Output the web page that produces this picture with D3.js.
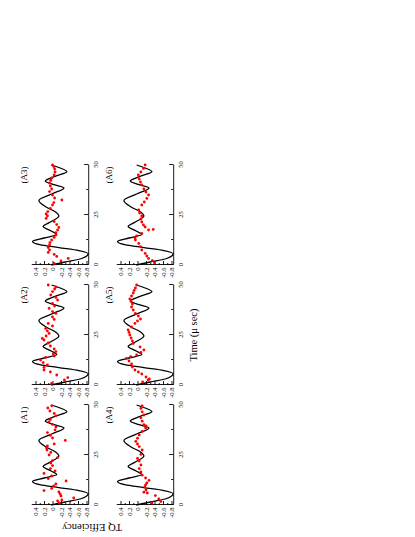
<!DOCTYPE html>
<html>
<head>
<meta charset="utf-8">
<script src="https://cdn.jsdelivr.net/npm/d3@7/dist/d3.min.js"></script>
<style>
  html, body { margin: 0; padding: 0; background: #fff; }
  svg { display: block; }
  text { font-family: "Liberation Serif", "Times New Roman", serif; fill: #000; }
</style>
</head>
<body>
<script>
// ---------- data ----------
const panelNames = ["(A1)", "(A2)", "(A3)", "(A4)", "(A5)", "(A6)"];
const timeTicks = [0, 25, 50];
const timeMinor = [12.5, 37.5];
const valueTicks = [0.4, 0.2, 0, -0.2, -0.4, -0.6, -0.8];
const valueMinor = [0.3, 0.1, -0.1, -0.3, -0.5, -0.7];

// theoretical curve (same in every panel)
const curveT = [0, 1.5, 3, 5.6, 7.2, 8.7, 10.2, 11.8, 13.5, 15.2, 17, 19.3, 21.5, 24.5, 26.5, 29, 32.3, 35.5, 38.5, 40.2, 42, 44.3, 46.7, 48.5, 50];
const curveV = [0.03, -0.3, -0.65, -0.84, -0.62, -0.15, 0.3, 0.47, 0.2, -0.1, 0.03, 0.22, 0.05, -0.15, -0.07, 0.15, 0.32, 0.02, -0.27, -0.04, 0.17, -0.06, -0.34, -0.18, 0.02];

// experimental points
const tA1 = [1, 2, 2.5, 3.5, 4.5, 5.5, 6.5, 7.2, 8.3, 9.5, 10.5, 12, 13.2, 14.5, 15.8, 17, 18.2, 19.7, 21, 22.2, 23.7, 25, 26.3, 27.5, 28.5, 29.5, 30.5, 32.3, 33.5, 34.8, 36.2, 37.6, 39, 40.3, 41.6, 42.8, 44.6, 45.8, 47, 48.5, 49.6];
const vA1 = [-0.16, -0.12, -0.22, -0.5, -0.2, -0.18, -0.15, 0.2, 0.02, -0.03, -0.08, -0.32, 0.1, 0.02, 0.2, -0.06, 0.05, 0.0, 0.04, 0.0, -0.12, 0.08, 0.04, 0.13, 0.14, 0.12, -0.04, -0.3, 0.0, 0.05, 0.12, -0.06, -0.08, 0.0, 0.08, 0.05, -0.08, -0.04, 0.06, 0.11, 0.02];

const tA2 = [0.8, 2.5, 3.7, 5, 6.5, 7.5, 8.8, 10, 11.2, 12.5, 13.8, 14.5, 15.5, 16.7, 18, 19.5, 21, 22.5, 23.3, 24.5, 25.8, 27, 28.3, 29.5, 30.8, 32.8, 34, 35.8, 36.7, 38.3, 39.5, 40.8, 42.5, 43.8, 45, 46.7, 48, 49, 50];
const vA2 = [0.02, -0.28, -0.36, -0.1, 0.05, 0.2, 0.2, 0.12, 0.22, 0.28, 0.16, -0.04, -0.02, -0.08, -0.04, 0.05, 0.1, 0.2, 0.24, 0.15, 0.08, 0.12, 0.16, 0.0, 0.1, -0.04, 0.0, -0.08, 0.0, 0.08, -0.05, 0.0, -0.12, -0.08, 0.04, 0.0, -0.05, -0.08, 0.1];

const tA3 = [0.8, 2, 3.3, 4.3, 5.3, 6.3, 7.5, 8.7, 10, 11.2, 12.5, 13.8, 15, 16.2, 17.5, 18.8, 20.2, 21.7, 23.3, 24.5, 25.5, 26.7, 28.3, 30, 31.2, 32.5, 33.5, 35, 36.7, 38, 39.5, 41, 42.3, 43.5, 45, 46.5, 48, 49.2, 50];
const vA3 = [-0.04, -0.2, -0.37, -0.1, -0.04, 0.1, 0.07, 0.1, 0.07, 0.06, 0.02, -0.04, -0.08, -0.08, -0.12, -0.15, -0.1, -0.04, 0.15, 0.12, 0.15, 0.11, 0.05, 0.0, -0.03, -0.22, -0.05, 0.0, 0.07, 0.02, 0.05, 0.07, 0.04, 0.02, -0.04, -0.06, -0.05, -0.03, 0.0];

const tA4 = [1, 1.7, 3, 4.7, 6, 6.4, 7.5, 9, 10, 11, 12.3, 13.5, 14.9, 16.5, 18.2, 20, 22, 23.3, 25.3, 27.5, 29.2, 30.5, 31.8, 33.4, 35, 36.8, 38.5, 39.5, 40.2, 41.9, 43.6, 45, 46.6, 48.3, 49.5];
const vA4 = [-0.34, -0.55, -0.5, -0.42, -0.23, -0.15, -0.2, -0.17, -0.19, -0.22, -0.27, -0.19, -0.11, -0.08, -0.04, -0.08, -0.04, 0.0, -0.08, -0.11, -0.04, 0.0, 0.04, 0.0, -0.04, -0.11, -0.19, -0.2, -0.15, -0.11, -0.08, -0.15, -0.11, -0.08, -0.11];

const tA5 = [1.5, 2.5, 3, 4, 5.5, 6.5, 7.5, 9, 10.5, 12, 13.3, 14.2, 15, 16.3, 17.5, 19, 20.8, 22, 23.5, 25, 26.3, 27.5, 29, 30.8, 32, 33, 34.5, 35.8, 37.5, 39, 40.5, 41.8, 43, 44.5, 46, 47.3, 48.5, 50];
const vA5 = [-0.12, -0.25, -0.28, -0.2, -0.1, -0.02, 0.06, 0.12, 0.14, 0.2, 0.26, 0.16, 0.02, -0.08, -0.15, -0.06, 0.1, 0.12, 0.15, 0.18, 0.2, 0.22, 0.14, 0.06, 0.0, -0.07, -0.02, 0.05, 0.1, 0.14, 0.12, 0.15, 0.18, 0.14, 0.1, 0.08, 0.05, 0.02];

const tA6 = [1, 2.2, 3.3, 4.5, 5.8, 7.5, 9.2, 10.8, 12.5, 13.5, 14.5, 15.8, 17.5, 17.8, 19, 20, 21.5, 23, 24.5, 26, 27.5, 30, 31.5, 33.3, 35, 36.5, 38, 40, 41.5, 43, 45, 46.5, 48.3, 50];
const vA6 = [-0.4, -0.35, -0.26, -0.22, -0.18, -0.1, -0.07, -0.03, 0.05, 0.06, 0.02, -0.1, -0.26, -0.37, -0.18, -0.14, -0.1, -0.08, -0.1, -0.05, -0.03, -0.1, -0.16, -0.22, -0.26, -0.2, -0.15, -0.1, -0.07, -0.04, -0.02, -0.08, -0.14, -0.18];

const panelTimes = [tA1, tA2, tA3, tA4, tA5, tA6];
const panelValues = [vA1, vA2, vA3, vA4, vA5, vA6];

// ---------- drawing ----------
const W = 415, H = 537;
const svg = d3.select("body").append("svg").attr("width", W).attr("height", H);
svg.append("rect").attr("width", W).attr("height", H).attr("fill", "#fff");

// whole figure is rotated 90 degrees counter-clockwise
const g = svg.append("g").attr("transform", `translate(0,${H}) rotate(-90)`);

const curveData = curveT.map((t, i) => [t, curveV[i]]);

panelNames.forEach((name, i) => {
  const row = Math.floor(i / 3), col = i % 3;
  const x0 = 32 + 120 * col;
  const yTop = 31.25 + 85 * row;
  const x = d3.scaleLinear().domain([0, 50]).range([x0, x0 + 100]);
  const y = d3.scaleLinear().domain([-0.84, 0.5]).range([yTop + 56.95, yTop]);
  const p = g.append("g");

  // time axis (bottom)
  const bx = p.append("g").attr("transform", `translate(0,${y(-0.84)})`)
    .call(d3.axisBottom(x).tickValues(timeTicks).tickSize(-4).tickSizeOuter(0).tickPadding(5.5).tickFormat(d3.format("d")));
  p.append("g").attr("transform", `translate(0,${y(-0.84)})`)
    .call(d3.axisBottom(x).tickValues(timeMinor).tickSize(-2).tickSizeOuter(0).tickFormat(""))
    .select(".domain").remove();

  // value axis (left)
  const ly = p.append("g").attr("transform", `translate(${x(0)},0)`)
    .call(d3.axisLeft(y).tickValues(valueTicks).tickSize(-4).tickSizeOuter(0).tickPadding(2.5)
      .tickFormat(d => d === 0 ? "0" : d.toFixed(1)));
  p.append("g").attr("transform", `translate(${x(0)},0)`)
    .call(d3.axisLeft(y).tickValues(valueMinor).tickSize(-2).tickSizeOuter(0).tickFormat(""))
    .select(".domain").remove();

  p.selectAll(".domain, .tick line").attr("stroke", "#000").attr("stroke-width", 0.9);
  p.selectAll(".tick text").style("font-family", '"Liberation Serif", "Times New Roman", serif').attr("font-size", 6.5);

  // theoretical curve
  p.append("path").datum(curveData)
    .attr("fill", "none").attr("stroke", "#000").attr("stroke-width", 1.3)
    .attr("d", d3.line().x(d => x(d[0])).y(d => y(d[1])).curve(d3.curveMonotoneX));

  // experimental points
  const pts = panelTimes[i].map((t, k) => [t, panelValues[i][k]]);
  p.selectAll("circle").data(pts).join("circle")
    .attr("cx", d => x(d[0])).attr("cy", d => y(d[1])).attr("r", 1.4).attr("fill", "#ff0000");

  // panel title
  p.append("text").attr("x", x(45)).attr("y", yTop - 4.5).attr("text-anchor", "middle")
    .attr("font-size", 9).text(name);
});

// axis titles
g.append("text").attr("x", 202).attr("y", 196.5).attr("text-anchor", "middle")
  .attr("font-size", 10.5).text("Time (\u03bc sec)");
g.append("text").attr("transform", "translate(13.5,92) rotate(-90)").attr("text-anchor", "middle")
  .attr("font-size", 10.5).text("TQ Efficiency");
</script>
</body>
</html>
